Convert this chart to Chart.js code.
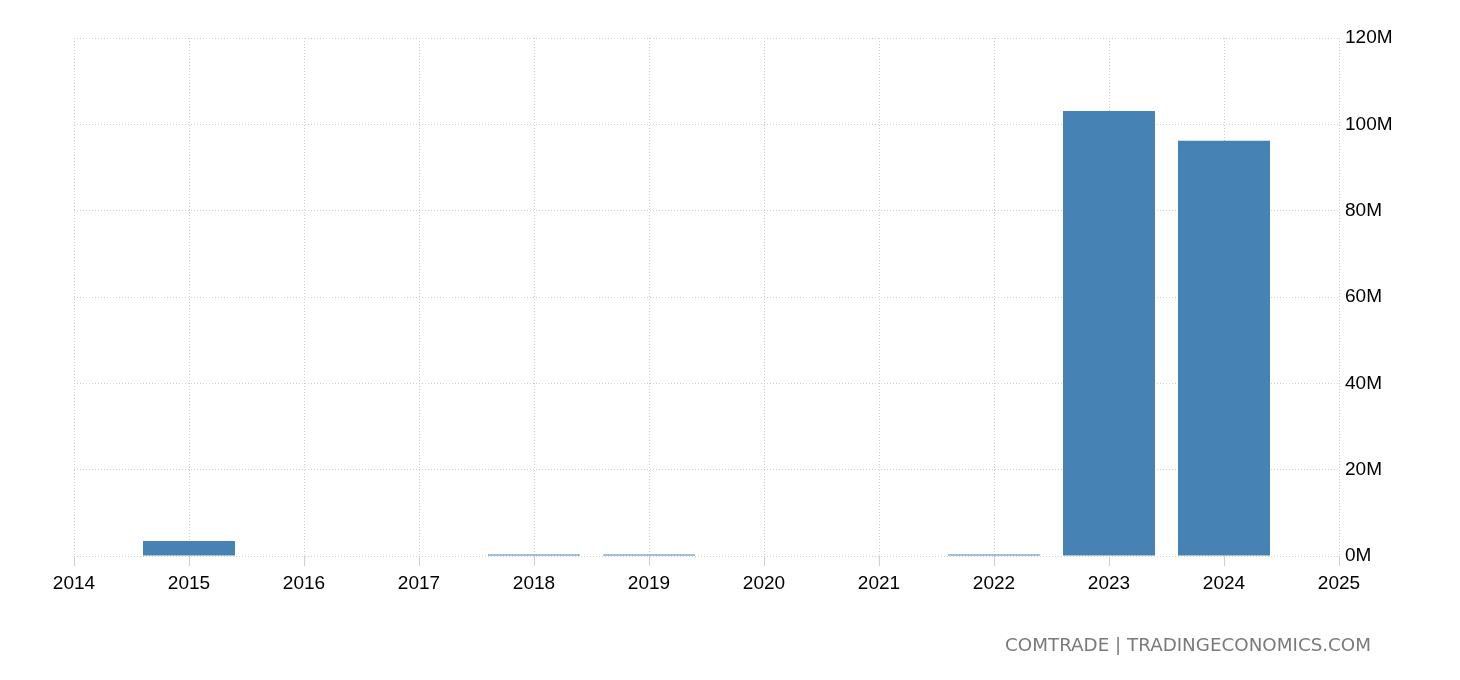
<!DOCTYPE html>
<html>
<head>
<meta charset="utf-8">
<script src="https://cdn.jsdelivr.net/npm/chart.js@4.4.0/dist/chart.umd.min.js"></script>
<style>
  html, body { margin: 0; padding: 0; background: #fff; }
  #wrap { position: relative; width: 1460px; height: 680px; }
  #c { position: absolute; left: 0; top: 0; }
  #source { position: absolute; right: 89px; top: 634px; font-family: "DejaVu Sans", sans-serif; font-size: 18.3px; color: #7a7a7a; white-space: nowrap; }
</style>
</head>
<body>
<div id="wrap">
  <canvas id="c" width="1460" height="680"></canvas>
  <div id="source">COMTRADE | TRADINGECONOMICS.COM</div>
</div>
<script>
const years = [2015, 2016, 2017, 2018, 2019, 2020, 2021, 2022, 2023, 2024];
const values = [3.48, 0, 0, 0.35, 0.35, 0, 0, 0.35, 103.1, 96.2]; // millions
const yTicks = [0, 20, 40, 60, 80, 100, 120];
const xMin = 2014, xMax = 2025;

const FONT = "'Liberation Sans', Arial, sans-serif";
const gridColor = '#cfcfcf';

new Chart(document.getElementById('c'), {
  type: 'bar',
  data: {
    datasets: [{
      data: years.map((y, i) => ({ x: y, y: values[i] })),
      backgroundColor: '#4682b4',
      borderWidth: 0,
      barPercentage: 0.8,
      categoryPercentage: 1.0
    }]
  },
  options: {
    responsive: false,
    animation: false,
    layout: { padding: { left: 74, right: 58, top: 38, bottom: 0 } },
    plugins: { legend: { display: false }, tooltip: { enabled: false } },
    scales: {
      x: {
        type: 'linear',
        min: xMin, max: xMax,
        offset: false,
        grid: { offset: false, color: gridColor, tickLength: 10, drawTicks: true },
        border: { display: false, dash: [1, 2] },
        ticks: {
          stepSize: 1,
          color: '#000',
          font: { family: FONT, size: 19 },
          padding: 6,
          maxRotation: 0,
          autoSkip: false,
          callback: v => String(v)
        },
        afterFit: s => { s.height = 124; }
      },
      y: {
        position: 'right',
        min: 0, max: 120,
        afterBuildTicks: s => { s.ticks = yTicks.map(v => ({ value: v })); },
        grid: { color: gridColor, drawTicks: false },
        border: { display: false, dash: [1, 2] },
        ticks: {
          color: '#000',
          font: { family: FONT, size: 19 },
          padding: 6,
          callback: v => v + 'M'
        },
        afterFit: s => { s.width = 63; }
      }
    }
  }
});
</script>
</body>
</html>
